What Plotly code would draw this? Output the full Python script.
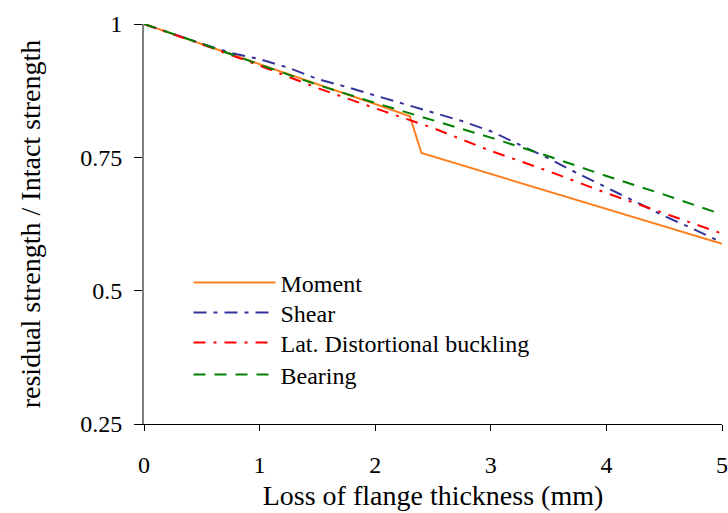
import plotly.graph_objects as go

moment_x = [0, 0.5, 1, 1.5, 2, 2.3, 2.4, 3, 3.5, 4, 4.5, 5]
moment_y = [1, 0.962, 0.925, 0.887, 0.85, 0.827, 0.758, 0.719, 0.686, 0.654, 0.621, 0.588]

shear_x = [0, 0.25, 0.5, 0.75, 1, 1.25, 1.5, 1.75, 2, 2.25, 2.5, 2.75, 3, 3.25, 3.5, 3.75, 4, 4.25, 4.5, 4.75, 5]
shear_y = [1, 0.981, 0.963, 0.946, 0.934, 0.918, 0.897, 0.882, 0.866, 0.851, 0.834, 0.818, 0.799, 0.773, 0.748, 0.72, 0.694, 0.667, 0.64, 0.616, 0.59]

ltb_x = [0, 0.5, 1, 1.5, 2, 2.3, 2.5, 3, 3.5, 4, 4.5, 5]
ltb_y = [1, 0.962, 0.922, 0.88, 0.842, 0.82, 0.805, 0.762, 0.724, 0.683, 0.645, 0.607]

bearing_x = [0, 0.5, 1, 1.5, 2, 2.5, 3, 3.5, 4, 4.5, 5]
bearing_y = [1, 0.963, 0.924, 0.886, 0.852, 0.82, 0.787, 0.752, 0.715, 0.68, 0.643]

x_ticks = [0, 1, 2, 3, 4, 5]
y_ticks = [0.25, 0.5, 0.75, 1]
y_tick_text = ["0.25", "0.5", "0.75", "1"]

FONT = "Liberation Serif"

fig = go.Figure()
fig.add_trace(go.Scatter(x=moment_x, y=moment_y, mode="lines", name="Moment", legend="legend",
                         line=dict(color="#FF7F1E", width=2, dash="solid")))
fig.add_trace(go.Scatter(x=shear_x, y=shear_y, mode="lines", name="Shear", legend="legend2",
                         line=dict(color="#333399", width=2, dash="13px,7px,4px,7px")))
fig.add_trace(go.Scatter(x=ltb_x, y=ltb_y, mode="lines", name="Lat. Distortional buckling", legend="legend3",
                         line=dict(color="#FF0000", width=2, dash="12px,8px,3px,8px")))
fig.add_trace(go.Scatter(x=bearing_x, y=bearing_y, mode="lines", name="Bearing", legend="legend4",
                         line=dict(color="#008000", width=2, dash="12px,9px")))


def leg(yc):
    return dict(x=0.077, y=yc, xanchor="left", yanchor="middle",
                bgcolor="rgba(0,0,0,0)", font=dict(family=FONT, size=24, color="black"),
                itemwidth=82)


fig.update_layout(
    width=728, height=513,
    margin=dict(l=144, r=6, t=24, b=89),
    paper_bgcolor="white", plot_bgcolor="white",
    font=dict(family=FONT, size=24, color="black"),
    showlegend=True,
    legend=leg(0.3525), legend2=leg(0.2775), legend3=leg(0.2025), legend4=leg(0.1225),
    xaxis=dict(range=[0, 5], tickvals=x_ticks, ticks="outside", ticklen=6,
               tickcolor="black", showline=True, linecolor="black", linewidth=1,
               showgrid=False, zeroline=False, ticklabelstandoff=13, automargin=False,
               tickfont=dict(family=FONT, size=24),
               title=dict(text="Loss of flange thickness (mm)", font=dict(family=FONT, size=28), standoff=8)),
    yaxis=dict(range=[0.25, 1], tickvals=y_ticks, ticktext=y_tick_text, ticks="outside", ticklen=8,
               tickcolor="black", showline=True, linecolor="#808080", linewidth=2,
               showgrid=False, zeroline=False, ticklabelstandoff=7, automargin=False,
               tickfont=dict(family=FONT, size=24),
               title=dict(text="residual strength / Intact strength", font=dict(family=FONT, size=28), standoff=31)),
)

fig.write_html("out.html", config={"displayModeBar": False},
               post_script="document.body.style.margin='0';document.body.style.overflow='hidden';")
